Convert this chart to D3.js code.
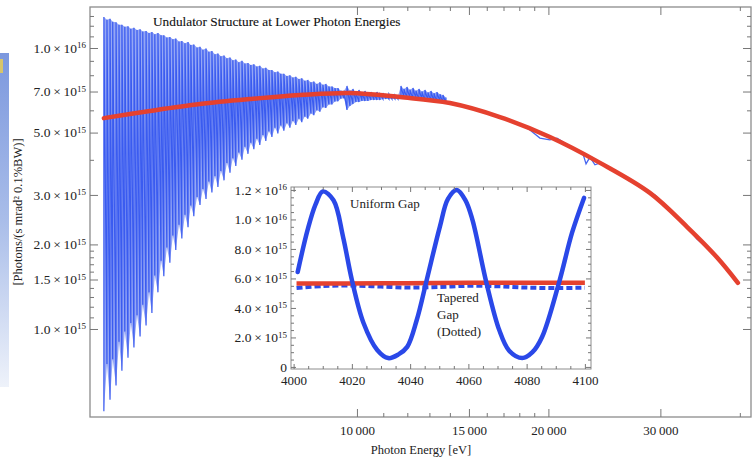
<!DOCTYPE html>
<html>
<head>
<meta charset="utf-8">
<script src="https://cdnjs.cloudflare.com/ajax/libs/d3/7.8.5/d3.min.js"></script>
<style>
    body { margin: 0; background: #fff; }
    svg { display: block; }
    text { font-family: "Liberation Serif", "DejaVu Serif", serif; fill: #222; }
</style>
</head>
<body>
<div id="chart-area"></div>
<script>
// ---- data (flux values in units of 1e15 photons) ----

// undulator harmonics below ~14 keV: energy of each spike, its top and its bottom
var spikeE = [4000,4045,4090,4130,4180,4225,4270,4315,4365,4410,
    4460,4510,4560,4605,4660,4710,4760,4810,4865,4920,
    4970,5025,5080,5135,5190,5250,5305,5365,5425,5480,
    5540,5605,5665,5725,5790,5850,5915,5980,6045,6110,
    6180,6245,6315,6380,6450,6520,6595,6665,6740,6810,
    6885,6960,7035,7115,7190,7270,7350,7430,7510,7590,
    7675,7760,7845,7930,8015,8105,8190,8280,8370,8465,
    8555,8650,8745,8840,8935,9035,9135,9235,9335,9435,9540,
    9645,9750,9856,9964,10073,10183,10294,10406,10520,10635,
    10751,10868,10987,11107,11228,11351,11475,11601,11727,11855,
    11985,12115,12248,12382,12517,12654,12792,12932,13073,13216,
    13361,13507,13654,13803];
var spikeHi = [12.9,12.6,12.7,12.4,12.35,12.1,12.1,11.9,11.95,11.7,
    11.8,11.6,11.65,11.45,11.5,11.3,11.4,11.2,11.3,11.1,
    11.1,10.9,10.95,10.75,10.8,10.55,10.6,10.4,10.5,10.25,
    10.3,10.05,10.1,9.85,9.95,9.7,9.75,9.5,9.55,9.35,
    9.4,9.2,9.25,9.05,9.1,8.9,9.0,8.8,8.85,8.7,
    8.75,8.6,8.65,8.45,8.5,8.35,8.35,8.2,8.25,8.1,
    8.1,7.95,8.0,7.85,7.9,7.75,7.8,7.65,7.7,7.55,
    7.6,7.45,7.55,7.4,7.45,7.3,7.3,7.2,7.2,7.05,7.05,
    7.33,7.05,7.15,6.95,7.09,6.92,7.03,6.9,6.97,6.88,
    6.97,6.85,6.92,6.8,6.86,6.78,6.80,6.75,7.33,7.15,
    7.27,7.1,7.21,7.05,7.15,7.0,7.09,6.95,7.03,6.9,
    6.97,6.85,6.80,6.66];
var spikeLo = [0.51,0.75,0.56,0.78,0.63,0.9,0.71,0.98,0.79,1.05,
    0.86,1.12,0.94,1.22,1.03,1.35,1.14,1.55,1.35,1.75,
    1.54,1.95,1.72,2.15,1.91,2.35,2.1,2.55,2.3,2.75,
    2.52,2.95,2.76,3.15,2.9,3.35,3.06,3.5,3.2,3.65,
    3.38,3.9,3.6,4.05,3.8,4.25,4.0,4.45,4.2,4.6,
    4.36,4.75,4.52,4.9,4.67,5.05,4.82,5.2,4.96,5.3,
    5.08,5.4,5.2,5.5,5.32,5.6,5.44,5.7,5.6,5.85,
    5.76,6.0,5.93,6.15,6.12,6.3,6.3,6.45,6.46,6.6,6.62,
    6.02,6.22,6.32,6.42,6.42,6.48,6.48,6.48,6.53,6.53,
    6.53,6.53,6.58,6.58,6.58,6.58,6.58,6.58,6.64,6.64,
    6.64,6.58,6.58,6.58,6.53,6.53,6.48,6.48,6.48,6.42,
    6.42,6.42,6.37,6.37];

// rest of the tapered-gap spectrum
var tailE = [13955,14520,15613,16780,18045,18707,19396,20110,20630,21230,
    22020,22670,22920,23250,23670,24110,25450,25910,26870,27860,
    28370,29420,30510,31620,33030,34240,34870,35890,37220,38600,39720];
var tailV = [6.40,6.22,5.97,5.68,5.37,5.11,4.78,4.71,4.78,4.59,
    4.37,4.20,3.87,4.09,3.84,3.90,3.65,3.53,3.36,3.25,
    3.15,3.00,2.76,2.54,2.32,2.09,2.02,1.91,1.73,1.57,1.46];

// smooth red curve
var fitE = [4000,4726,5664,6787,8136,9750,11684,14004,16780,20110,24110,28880,33030,36810,39720];
var fitV = [5.63,5.97,6.32,6.58,6.80,6.92,6.69,6.37,5.68,4.82,3.90,3.05,2.31,1.80,1.46];

// inset: 4000-4100 eV
var uniformE = [4001.4,4004.8,4007.5,4010,4013.7,4017,4020,4024,4028.7,4032.5,4036,4039,4042.3,4045.7,
    4050.2,4053,4056,4059,4061.4,4066.2,4070.6,4074,4078.5,4082,4085.3,4091.1,4095.6,4099.7];
var uniformV = [6.44,9.29,11.0,11.9,11.3,8.8,5.9,2.98,1.15,0.6,0.85,1.36,3.2,5.9,
    9.5,11.4,12.0,11.3,9.97,5.7,2.5,1.1,0.6,1.0,2.03,5.7,9.1,11.46];
var taperE = [4001,4010,4020,4030,4040,4050,4060,4070,4080,4090,4100];
var taperV = [5.35,5.48,5.52,5.45,5.38,5.42,5.5,5.47,5.38,5.35,5.37];
var insetFitE = [4001,4030,4060,4100];
var insetFitV = [5.66,5.67,5.71,5.70];

// tick values and labels
var yMajor = [1, 1.5, 2, 3, 5, 7, 10];
var yMantissa = ["1.0", "1.5", "2.0", "3.0", "5.0", "7.0", "1.0"];
var yExponent = ["15", "15", "15", "15", "15", "15", "16"];
var yMinor = [1.1, 1.2, 1.3, 1.4, 1.6, 1.7, 1.8, 1.9, 4, 6, 8, 9, 11, 12, 13];
var xMajor = [10000, 15000, 20000, 30000];
var xLabels = ["10\u2009000", "15\u2009000", "20\u2009000", "30\u2009000"];
var xMinor = [11000, 12000, 13000, 14000, 16000, 17000, 18000, 19000, 40000];

var insetYMajor = [0, 2, 4, 6, 8, 10, 12];
var insetYMantissa = ["0", "2.0", "4.0", "6.0", "8.0", "1.0", "1.2"];
var insetYExponent = ["", "15", "15", "15", "15", "16", "16"];
var insetXMajor = [4000, 4020, 4040, 4060, 4080, 4100];

// ---- drawing ----
var W = 754, H = 459;
var frame = { left: 90, right: 751, top: 7, bottom: 417 };
var inset = { left: 291, right: 591, top: 187, bottom: 369 };

var svg = d3.select("#chart-area").append("svg")
    .attr("width", W)
    .attr("height", H);

// slide background strip at the far left
var defs = svg.append("defs");
var grad = defs.append("linearGradient")
    .attr("id", "strip")
    .attr("x1", 0).attr("y1", 0).attr("x2", 0).attr("y2", 1);
grad.append("stop").attr("offset", "0%").attr("stop-color", "#7c98de");
grad.append("stop").attr("offset", "50%").attr("stop-color", "#a9bde9");
grad.append("stop").attr("offset", "100%").attr("stop-color", "#eef2fa");
svg.append("rect")
    .attr("x", 0).attr("y", 53).attr("width", 9).attr("height", 334)
    .attr("fill", "url(#strip)");
svg.append("rect")
    .attr("x", 0).attr("y", 59).attr("width", 3).attr("height", 14)
    .attr("fill", "#d8c56a");

var x = d3.scaleLog().domain([3804, 41650]).range([frame.left, frame.right]);
var y = d3.scaleLog().domain([0.4862, 13.993]).range([frame.bottom, frame.top]);

var plot = svg.append("g");
plot.append("clipPath").attr("id", "clip")
    .append("rect")
    .attr("x", frame.left).attr("y", frame.top)
    .attr("width", frame.right - frame.left)
    .attr("height", frame.bottom - frame.top);

var spikes = spikeE.map(function(e, i) { return { e: e, hi: spikeHi[i], lo: spikeLo[i] }; });

// lighter fill between spike tops and bottoms
var area = d3.area()
    .x(function(d) { return x(d.e); })
    .y0(function(d) { return y(d.lo); })
    .y1(function(d) { return y(d.hi); });
plot.append("path")
    .attr("d", area(spikes))
    .attr("fill", "#95a7f5")
    .attr("clip-path", "url(#clip)");

// the oscillating line itself
var zig = [];
spikes.forEach(function(d) {
    zig.push([d.e, d.lo]);
    zig.push([d.e, d.hi]);
});
var line = d3.line()
    .x(function(d) { return x(d[0]); })
    .y(function(d) { return y(d[1]); });
plot.append("path")
    .attr("d", line(zig))
    .attr("fill", "none")
    .attr("stroke", "#3a5bf0")
    .attr("stroke-width", 1.2)
    .attr("clip-path", "url(#clip)");

var tail = tailE.map(function(e, i) { return [e, tailV[i]]; });
tail.unshift([spikeE[spikeE.length - 1], spikeLo[spikeLo.length - 1]]);
plot.append("path")
    .attr("d", line(tail))
    .attr("fill", "none")
    .attr("stroke", "#4767f0")
    .attr("stroke-width", 1.3);

var fitLine = d3.line()
    .x(function(d) { return x(d[0]); })
    .y(function(d) { return y(d[1]); })
    .curve(d3.curveCatmullRom.alpha(0.5));
plot.append("path")
    .attr("d", fitLine(fitE.map(function(e, i) { return [e, fitV[i]]; })))
    .attr("fill", "none")
    .attr("stroke", "#e5412f")
    .attr("stroke-width", 4.5)
    .attr("stroke-linecap", "round");

// frame and axes
svg.append("rect")
    .attr("x", frame.left).attr("y", frame.top)
    .attr("width", frame.right - frame.left)
    .attr("height", frame.bottom - frame.top)
    .attr("fill", "none")
    .attr("stroke", "#8c8c8c")
    .attr("stroke-width", 1.3);

function tickOnly(g) {
    g.select(".domain").remove();
    g.attr("color", "#777");
}

// left
var yAxisCall = d3.axisLeft(y).tickValues(yMajor).tickSize(-8).tickPadding(4)
    .tickFormat(function(d, i) { return yMantissa[i] + "\u2009\u00d7\u200910"; });
var yAxis = svg.append("g")
    .attr("transform", "translate(" + frame.left + ",0)")
    .call(yAxisCall);
tickOnly(yAxis);
yAxis.attr("font-family", null).attr("font-size", 13.5);
yAxis.selectAll(".tick text")
    .append("tspan")
    .attr("dy", "-0.5em")
    .attr("font-size", 9)
    .text(function(d, i) { return yExponent[i]; });
svg.append("g")
    .attr("transform", "translate(" + frame.left + ",0)")
    .call(d3.axisLeft(y).tickValues(yMinor).tickSize(-4).tickFormat(""))
    .call(tickOnly);
// right
svg.append("g")
    .attr("transform", "translate(" + frame.right + ",0)")
    .call(d3.axisRight(y).tickValues(yMajor).tickSize(-8).tickFormat(""))
    .call(tickOnly);
svg.append("g")
    .attr("transform", "translate(" + frame.right + ",0)")
    .call(d3.axisRight(y).tickValues(yMinor).tickSize(-4).tickFormat(""))
    .call(tickOnly);
// bottom
var xAxis = svg.append("g")
    .attr("transform", "translate(0," + frame.bottom + ")")
    .call(d3.axisBottom(x).tickValues(xMajor).tickSize(-8).tickPadding(9)
        .tickFormat(function(d, i) { return xLabels[i]; }));
tickOnly(xAxis);
xAxis.attr("font-family", null).attr("font-size", 13);
svg.append("g")
    .attr("transform", "translate(0," + frame.bottom + ")")
    .call(d3.axisBottom(x).tickValues(xMinor).tickSize(-4).tickFormat(""))
    .call(tickOnly);
// top
svg.append("g")
    .attr("transform", "translate(0," + frame.top + ")")
    .call(d3.axisTop(x).tickValues(xMajor).tickSize(-8).tickFormat(""))
    .call(tickOnly);
svg.append("g")
    .attr("transform", "translate(0," + frame.top + ")")
    .call(d3.axisTop(x).tickValues(xMinor).tickSize(-4).tickFormat(""))
    .call(tickOnly);

// titles
svg.append("text")
    .attr("x", 153).attr("y", 26)
    .attr("font-size", 13.3)
    .style("fill", "#111")
    .style("stroke", "#111")
    .style("stroke-width", 0.12)
    .text("Undulator Structure at Lower Photon Energies");
svg.append("text")
    .attr("x", 421).attr("y", 454)
    .attr("text-anchor", "middle")
    .attr("font-size", 12.5)
    .text("Photon Energy [eV]");
svg.append("text")
    .attr("transform", "translate(22,212) rotate(-90)")
    .attr("text-anchor", "middle")
    .attr("font-size", 12.5)
    .text("[Photons/(s mrad\u00b2 0.1%BW)]");

// ---- inset ----
var xi = d3.scaleLinear().domain([3999.1, 4102.1]).range([inset.left, inset.right]);
var yi = d3.scaleLinear().domain([-0.14, 12.2]).range([inset.bottom, inset.top]);

var gi = svg.append("g");
gi.append("rect")
    .attr("x", inset.left).attr("y", inset.top)
    .attr("width", inset.right - inset.left)
    .attr("height", inset.bottom - inset.top)
    .attr("fill", "#fff");

var insetLine = d3.line()
    .x(function(d) { return xi(d[0]); })
    .y(function(d) { return yi(d[1]); })
    .curve(d3.curveCatmullRom.alpha(0.5));

gi.append("path")
    .attr("d", insetLine(taperE.map(function(e, i) { return [e, taperV[i]]; })))
    .attr("fill", "none")
    .attr("stroke", "#2c4ae8")
    .attr("stroke-width", 4)
    .attr("stroke-dasharray", "6,3");
gi.append("path")
    .attr("d", insetLine(insetFitE.map(function(e, i) { return [e, insetFitV[i]]; })))
    .attr("fill", "none")
    .attr("stroke", "#e5412f")
    .attr("stroke-width", 4.5);
gi.append("path")
    .attr("d", insetLine(uniformE.map(function(e, i) { return [e, uniformV[i]]; })))
    .attr("fill", "none")
    .attr("stroke", "#2a48e8")
    .attr("stroke-width", 4.5)
    .attr("stroke-linecap", "round");

gi.append("rect")
    .attr("x", inset.left).attr("y", inset.top)
    .attr("width", inset.right - inset.left)
    .attr("height", inset.bottom - inset.top)
    .attr("fill", "none")
    .attr("stroke", "#8c8c8c")
    .attr("stroke-width", 1);

var insetXMinor = d3.range(4005, 4100, 5).filter(function(v) { return v % 20 != 0; });
var insetYMinor = d3.range(0.5, 12.2, 0.5).filter(function(v) { return v % 2 != 0; });

var iyAxis = gi.append("g")
    .attr("transform", "translate(" + inset.left + ",0)")
    .call(d3.axisLeft(yi).tickValues(insetYMajor).tickSize(-5).tickPadding(4)
        .tickFormat(function(d, i) {
            return insetYExponent[i] ? insetYMantissa[i] + "\u2009\u00d7\u200910" : insetYMantissa[i];
        }));
tickOnly(iyAxis);
iyAxis.attr("font-family", null).attr("font-size", 13.5);
iyAxis.selectAll(".tick text")
    .append("tspan")
    .attr("dy", "-0.5em")
    .attr("font-size", 9)
    .text(function(d, i) { return insetYExponent[i]; });
gi.append("g")
    .attr("transform", "translate(" + inset.left + ",0)")
    .call(d3.axisLeft(yi).tickValues(insetYMinor).tickSize(-3).tickFormat(""))
    .call(tickOnly);
gi.append("g")
    .attr("transform", "translate(" + inset.right + ",0)")
    .call(d3.axisRight(yi).tickValues(insetYMajor).tickSize(-5).tickFormat(""))
    .call(tickOnly);
gi.append("g")
    .attr("transform", "translate(" + inset.right + ",0)")
    .call(d3.axisRight(yi).tickValues(insetYMinor).tickSize(-3).tickFormat(""))
    .call(tickOnly);

var ixAxis = gi.append("g")
    .attr("transform", "translate(0," + inset.bottom + ")")
    .call(d3.axisBottom(xi).tickValues(insetXMajor).tickSize(-5).tickPadding(7)
        .tickFormat(d3.format("d")));
tickOnly(ixAxis);
ixAxis.attr("font-family", null).attr("font-size", 13);
gi.append("g")
    .attr("transform", "translate(0," + inset.bottom + ")")
    .call(d3.axisBottom(xi).tickValues(insetXMinor).tickSize(-3).tickFormat(""))
    .call(tickOnly);
gi.append("g")
    .attr("transform", "translate(0," + inset.top + ")")
    .call(d3.axisTop(xi).tickValues(insetXMajor).tickSize(-5).tickFormat(""))
    .call(tickOnly);
gi.append("g")
    .attr("transform", "translate(0," + inset.top + ")")
    .call(d3.axisTop(xi).tickValues(insetXMinor).tickSize(-3).tickFormat(""))
    .call(tickOnly);

// inset notes
gi.append("text").attr("x", 350).attr("y", 208).attr("font-size", 13).text("Uniform Gap");
gi.append("text").attr("x", 437).attr("y", 302).attr("font-size", 13).text("Tapered");
gi.append("text").attr("x", 437).attr("y", 319).attr("font-size", 13).text("Gap");
gi.append("text").attr("x", 437).attr("y", 336).attr("font-size", 13).text("(Dotted)");
</script>
</body>
</html>
